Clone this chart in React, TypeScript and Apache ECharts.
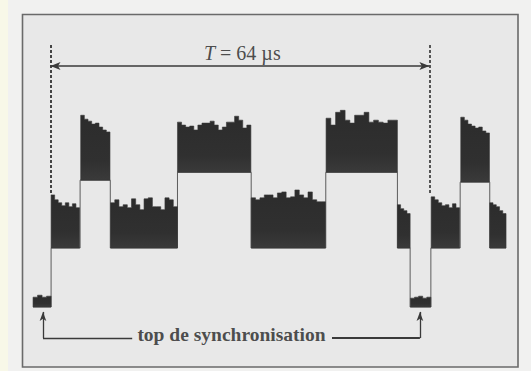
import React, { useEffect, useRef } from 'react';
import * as echarts from 'echarts';

// Time in µs (0 = trailing edge of the first sync pulse), level in mV (0 = sync tip, 300 = black level)
const BLOCK_NAMES = ['sync1', 'low1', 'high1', 'low2', 'high2', 'low3', 'high3', 'low4', 'sync2', 'low5', 'high4', 'low6'];
const BLOCK_START = [-2.95, 0.1, 5.1, 10.15, 21.45, 33.9, 46.55, 58.6, 60.8, 64.3, 69.3, 74.2];
const BLOCK_END = [0.1, 4.9, 10.05, 21.45, 33.85, 46.45, 58.6, 60.75, 64.25, 69.1, 74.15, 76.95];
const BLOCK_BASE = [0, 300, 645, 300, 685, 300, 685, 300, 0, 300, 635, 300];
const PROFILES: number[][] = [
  [50, 60, 50, 55],
  [570, 545, 530, 515, 530, 510, 525, 505],
  [975, 955, 945, 930, 935, 915, 900, 890],
  [530, 545, 510, 520, 505, 550, 520, 495, 550, 555, 510, 510, 495, 555, 545, 510],
  [940, 925, 915, 920, 900, 925, 935, 935, 945, 925, 900, 915, 940, 940, 970, 950, 910, 925],
  [555, 545, 555, 570, 570, 555, 580, 585, 555, 560, 595, 570, 555, 585, 545, 535, 535],
  [960, 925, 990, 1000, 950, 935, 975, 975, 990, 940, 950, 940, 935, 950, 950],
  [520, 500, 490, 475],
  [45, 50, 55, 45, 50],
  [560, 545, 530, 515, 520, 505, 525, 505],
  [965, 950, 930, 920, 910, 915, 895, 885],
  [530, 520, 510, 490, 475],
];

// minimum envelope of the signal (thin step outline)
const OUTLINE_T = [-2.95, 0.1, 0.1, 5.0, 5.0, 10.1, 10.1, 21.45, 21.45, 33.9, 33.9, 46.5, 46.5, 58.6, 58.6, 60.75, 60.75, 64.25, 64.25, 69.2, 69.2, 74.2, 74.2, 76.95];
const OUTLINE_MV = [0, 0, 300, 300, 645, 645, 300, 300, 685, 685, 300, 300, 685, 685, 300, 300, 0, 0, 300, 300, 635, 635, 300, 300];

const PERIOD_US = 64;
const PERIOD_LABEL = '{i|T} = 64 µs';
const SYNC_LABEL = 'top de synchronisation';

export default function App() {
  const ref = useRef<HTMLDivElement>(null);
  useEffect(() => {
    document.body.style.margin = '0';
    if (!ref.current) return;
    const chart = echarts.init(ref.current, undefined, { renderer: 'svg' });
    const serif = '"Liberation Serif", "DejaVu Serif", serif';
    const ink = '#222222';
    const fill = new echarts.graphic.LinearGradient(0, 0, 0, 1, [
      { offset: 0, color: '#2c2c2c' },
      { offset: 0.7, color: '#303030' },
      { offset: 1, color: '#3a3a3a' },
    ]);
    const blockData = BLOCK_NAMES.map((n, i) => [BLOCK_START[i], BLOCK_END[i], BLOCK_BASE[i], i]);
    const outline = OUTLINE_T.map((t, i) => [t, OUTLINE_MV[i]]);

    chart.setOption({
      animation: false,
      backgroundColor: '#f1f1f0',
      graphic: {
        elements: [
          { type: 'rect', z: 0, shape: { x: 0, y: 0, width: 8, height: 371 }, style: { fill: '#f8f8e8' } },
          {
            type: 'rect',
            z: 0,
            shape: { x: 22.5, y: 14.5, width: 495.5, height: 352.5 },
            style: { fill: '#e8e8e8', stroke: '#6a6a6a', lineWidth: 1.6 },
          },
        ],
      },
      grid: { left: 20.9, width: 503.2, top: 12, height: 354, containLabel: false },
      xAxis: { type: 'value', min: -5, max: 80, show: false, splitLine: { show: false } },
      yAxis: { type: 'value', min: -300, max: 1500, show: false, splitLine: { show: false } },
      series: [
        {
          type: 'line',
          data: outline,
          showSymbol: false,
          symbol: 'none',
          lineStyle: { color: '#5c5c5c', width: 1 },
          z: 3,
          silent: true,
          markLine: {
            silent: true,
            symbol: ['none', 'none'],
            label: { show: false },
            lineStyle: { color: '#3a3a3a', width: 1.3, type: 'solid' },
            data: [
              [
                { coord: [0, 580], lineStyle: { type: [3, 2], width: 2, color: '#444' } },
                { coord: [0, 1342] },
              ],
              [
                { coord: [PERIOD_US, 580], lineStyle: { type: [3, 2], width: 2, color: '#555' } },
                { coord: [PERIOD_US, 1335] },
              ],
              [
                { coord: [0, 1225], symbol: 'arrow', symbolSize: [6, 10], lineStyle: { width: 1.6 } },
                { coord: [PERIOD_US, 1225], symbol: 'arrow', symbolSize: [6, 10] },
              ],
              [
                { coord: [-1.27, -25], symbol: 'arrow', symbolSize: [5, 9] },
                { coord: [-1.27, -158] },
              ],
              [{ coord: [-1.27, -158] }, { coord: [13.8, -158] }],
              [{ coord: [47.55, -158], lineStyle: { width: 1.8 } }, { coord: [62.4, -158] }],
              [
                { coord: [62.4, -25], symbol: 'arrow', symbolSize: [5, 9] },
                { coord: [62.4, -158] },
              ],
            ],
          },
        },
        {
          type: 'custom',
          z: 4,
          silent: true,
          data: blockData,
          encode: { x: [0, 1], y: 2 },
          renderItem: (params: any, api: any) => {
            const i = api.value(3);
            const t0 = api.value(0);
            const t1 = api.value(1);
            const base = api.value(2);
            const prof = PROFILES[i];
            const n = prof.length;
            const w = (t1 - t0) / n;
            const pts: number[][] = [api.coord([t0, base])];
            for (let k = 0; k < n; k++) {
              pts.push(api.coord([t0 + k * w, prof[k]]));
              pts.push(api.coord([t0 + (k + 1) * w, prof[k]]));
            }
            pts.push(api.coord([t1, base]));
            return {
              type: 'polygon',
              shape: { points: pts },
              style: { fill, stroke: '#383838', lineWidth: 0.6 },
            };
          },
        },
        {
          type: 'scatter',
          silent: true,
          symbolSize: 1,
          itemStyle: { color: 'rgba(0,0,0,0)' },
          z: 5,
          data: [
            { value: [32.4, 1292], label: { formatter: PERIOD_LABEL } },
            { value: [30.57, -142], label: { formatter: SYNC_LABEL, fontWeight: 'bold', fontSize: 19.5 } },
          ],
          label: {
            show: true,
            position: 'inside',
            fontFamily: serif,
            fontSize: 20,
            color: ink,
            rich: {
              i: { fontFamily: serif, fontSize: 20, fontStyle: 'italic', color: ink },
            },
          },
        },
      ],
    });
    return () => chart.dispose();
  }, []);
  return <div ref={ref} style={{ width: 531, height: 371 }} />;
}
